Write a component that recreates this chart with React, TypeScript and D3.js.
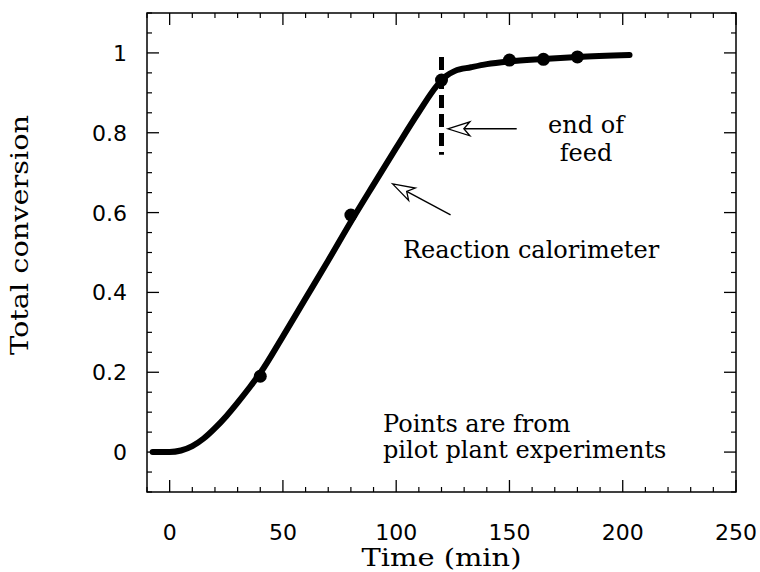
import React from "react";
import * as d3 from "d3";

// Reaction calorimeter curve (time in min, total conversion)
const curveTime = [-7.5, 0, 5, 10, 15, 20, 25, 30, 35, 40, 50, 60, 70, 80, 90, 100, 110, 118, 122, 126, 133, 140, 150, 165, 180, 203];
const curveConv = [0, 0, 0.004, 0.015, 0.034, 0.06, 0.09, 0.124, 0.16, 0.198, 0.29, 0.385, 0.48, 0.577, 0.67, 0.762, 0.852, 0.918, 0.942, 0.955, 0.964, 0.972, 0.979, 0.985, 0.99, 0.995];

// Pilot plant experiment points
const pointTime = [40, 80, 120, 150, 165, 180];
const pointConv = [0.19, 0.594, 0.932, 0.982, 0.984, 0.99];

// Axis ticks
const xTickValues = [0, 50, 100, 150, 200, 250];
const xTickLabels = ["0", "50", "100", "150", "200", "250"];
const yTickValues = [0, 0.2, 0.4, 0.6, 0.8, 1];
const yTickLabels = ["0", "0.2", "0.4", "0.6", "0.8", "1"];

// End of feed marker
const endOfFeedTime = 120;
const endOfFeedRange = [0.745, 0.99];

const serif = "'DejaVu Serif', serif";
const sans = "'DejaVu Sans', sans-serif";

function Arrow({ x1, y1, x2, y2 }: { x1: number; y1: number; x2: number; y2: number }) {
  // tail (x1,y1) -> tip (x2,y2), open swept-back head
  const dx = x2 - x1, dy = y2 - y1;
  const len = Math.hypot(dx, dy);
  const ux = dx / len, uy = dy / len;
  const nx = -uy, ny = ux;
  const L = 22, Wd = 7, N = 16;
  const b1 = [x2 - ux * L + nx * Wd, y2 - uy * L + ny * Wd];
  const b2 = [x2 - ux * L - nx * Wd, y2 - uy * L - ny * Wd];
  const nt = [x2 - ux * N, y2 - uy * N];
  return (
    <g>
      <line x1={x1} y1={y1} x2={nt[0]} y2={nt[1]} stroke="#000" strokeWidth={1.4} />
      <path
        d={`M${x2},${y2}L${b1[0]},${b1[1]}L${nt[0]},${nt[1]}L${b2[0]},${b2[1]}Z`}
        fill="#fff"
        stroke="#000"
        strokeWidth={1.3}
        strokeLinejoin="miter"
      />
    </g>
  );
}

export default function App() {
  const W = 760, H = 572;
  const x = d3.scaleLinear().domain([-10, 250]).range([147, 736]);
  const y = d3.scaleLinear().domain([-0.1, 1.1]).range([492, 13]);
  const [x0, x1] = x.range();
  const [y0, y1] = y.range();

  const xMinor = d3.range(-10, 251, 10).filter((v) => !xTickValues.includes(v));
  const yMinor = d3.range(-2, 23).map((i) => +(i * 0.05).toFixed(2)).filter((v) => !yTickValues.some((t) => Math.abs(t - v) < 1e-6));

  const curveData = curveTime.map((t, i) => [t, curveConv[i]] as [number, number]);
  const line = d3
    .line<[number, number]>()
    .x((d) => x(d[0]))
    .y((d) => y(d[1]))
    .curve(d3.curveMonotoneX);

  const major = 12, minor = 5;

  return (
    <svg width={W} height={H} style={{ position: "absolute", left: 0, top: 0, background: "#fff" }}>
      <rect width={W} height={H} fill="#fff" />
      {/* frame */}
      <rect x={x0} y={y1} width={x1 - x0} height={y0 - y1} fill="none" stroke="#000" strokeWidth={1.5} />
      {/* x ticks bottom and top */}
      {xTickValues.map((v) => (
        <g key={"xm" + v}>
          <line x1={x(v)} x2={x(v)} y1={y0} y2={y0 - major} stroke="#000" strokeWidth={1.3} />
          <line x1={x(v)} x2={x(v)} y1={y1} y2={y1 + major} stroke="#000" strokeWidth={1.3} />
        </g>
      ))}
      {xMinor.map((v) => (
        <g key={"xn" + v}>
          <line x1={x(v)} x2={x(v)} y1={y0} y2={y0 - minor} stroke="#000" strokeWidth={1.2} />
          <line x1={x(v)} x2={x(v)} y1={y1} y2={y1 + minor} stroke="#000" strokeWidth={1.2} />
        </g>
      ))}
      {/* y ticks left and right */}
      {yTickValues.map((v) => (
        <g key={"ym" + v}>
          <line x1={x0} x2={x0 + major} y1={y(v)} y2={y(v)} stroke="#000" strokeWidth={1.3} />
          <line x1={x1} x2={x1 - major} y1={y(v)} y2={y(v)} stroke="#000" strokeWidth={1.3} />
        </g>
      ))}
      {yMinor.map((v) => (
        <g key={"yn" + v}>
          <line x1={x0} x2={x0 + minor} y1={y(v)} y2={y(v)} stroke="#000" strokeWidth={1.2} />
          <line x1={x1} x2={x1 - minor} y1={y(v)} y2={y(v)} stroke="#000" strokeWidth={1.2} />
        </g>
      ))}
      {/* tick labels */}
      {xTickValues.map((v, i) => (
        <text key={"xl" + v} x={x(v)} y={540} textAnchor="middle" fontFamily={sans} fontSize={22} fill="#000">
          {xTickLabels[i]}
        </text>
      ))}
      {yTickValues.map((v, i) => (
        <text key={"yl" + v} x={127} y={y(v) + 8} textAnchor="end" fontFamily={sans} fontSize={22} fill="#000">
          {yTickLabels[i]}
        </text>
      ))}
      {/* axis titles */}
      <text
        x={(x0 + x1) / 2 - 80}
        y={566}
        fontFamily={serif}
        fontSize={24}
        textLength={160}
        lengthAdjust="spacingAndGlyphs"
        fill="#000"
      >
        Time (min)
      </text>
      <text
        transform={`translate(28,${235 + 120}) rotate(-90)`}
        fontFamily={serif}
        fontSize={24}
        textLength={240}
        lengthAdjust="spacingAndGlyphs"
        fill="#000"
      >
        Total conversion
      </text>
      {/* curve */}
      <path d={line(curveData) || ""} fill="none" stroke="#000" strokeWidth={6} strokeLinecap="round" strokeLinejoin="round" />
      {/* end of feed dashed line */}
      <line
        x1={x(endOfFeedTime)}
        x2={x(endOfFeedTime)}
        y1={y(endOfFeedRange[1])}
        y2={y(endOfFeedRange[0])}
        stroke="#000"
        strokeWidth={5}
        strokeDasharray="13,6"
      />
      {/* points */}
      {pointTime.map((t, i) => (
        <circle key={"p" + i} cx={x(t)} cy={y(pointConv[i])} r={6.5} fill="#000" />
      ))}
      {/* annotations */}
      <Arrow x1={x(153.2)} y1={y(0.81)} x2={x(122.8)} y2={y(0.81)} />
      <Arrow x1={x(124)} y1={y(0.594)} x2={x(98.4)} y2={y(0.672)} />
      <text x={x(183.8)} y={133} textAnchor="middle" fontFamily={serif} fontSize={24} fill="#000">
        end of
      </text>
      <text x={x(183.8)} y={161} textAnchor="middle" fontFamily={serif} fontSize={24} fill="#000">
        feed
      </text>
      <text x={403} y={258} fontFamily={serif} fontSize={24} fill="#000">
        Reaction calorimeter
      </text>
      <text x={383} y={432} fontFamily={serif} fontSize={24} fill="#000">
        Points are from
      </text>
      <text x={383} y={458} fontFamily={serif} fontSize={24} fill="#000">
        pilot plant experiments
      </text>
    </svg>
  );
}
